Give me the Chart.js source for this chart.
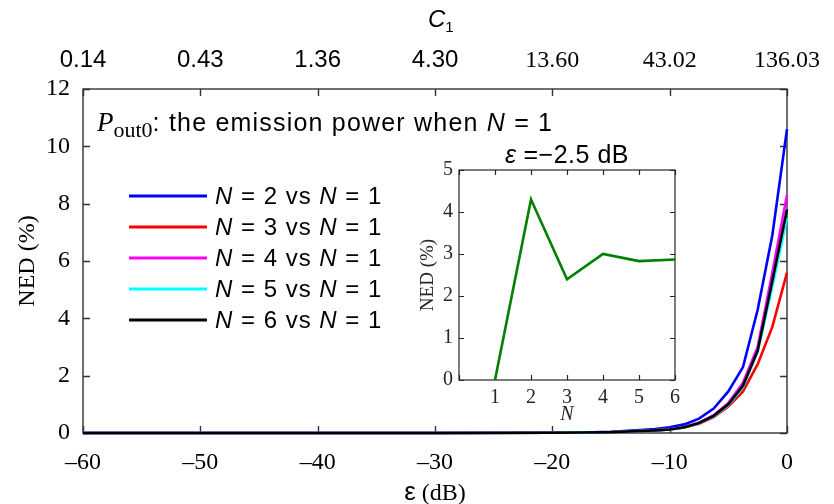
<!DOCTYPE html>
<html>
<head>
<meta charset="utf-8">
<script src="https://cdn.jsdelivr.net/npm/chart.js@4.4.1/dist/chart.umd.min.js"></script>
<style>
  html, body { margin: 0; padding: 0; background: #fff; }
  #wrap { position: relative; width: 834px; height: 504px; }
  #mainChart { position: absolute; left: 0; top: 0; }
  #insetChart { position: absolute; left: 395px; top: 135px; }
</style>
</head>
<body>
<div id="wrap">
  <canvas id="mainChart" width="834" height="504"></canvas>
  <canvas id="insetChart" width="300" height="290"></canvas>
</div>
<script>
// --- data ---
const eps = [-60, -50, -40, -30, -20, -17.5, -15, -12.5, -11.25, -10, -8.75, -7.5, -6.25, -5, -3.75, -2.5, -1.25, 0];
const nedN2 = [0, 0, 0, 0, 0.01, 0.02, 0.04, 0.10, 0.14, 0.20, 0.30, 0.50, 0.85, 1.45, 2.30, 4.30, 6.90, 10.6];
const nedN3 = [0, 0, 0, 0, 0.01, 0.02, 0.03, 0.07, 0.09, 0.12, 0.19, 0.32, 0.55, 0.92, 1.45, 2.40, 3.70, 5.6];
const nedN4 = [0, 0, 0, 0, 0.01, 0.02, 0.03, 0.07, 0.09, 0.13, 0.21, 0.36, 0.62, 1.05, 1.75, 3.00, 5.60, 8.3];
const nedN5 = [0, 0, 0, 0, 0.01, 0.02, 0.03, 0.07, 0.09, 0.12, 0.20, 0.34, 0.58, 0.97, 1.60, 2.83, 5.10, 7.5];
const nedN6 = [0, 0, 0, 0, 0.01, 0.02, 0.03, 0.07, 0.09, 0.12, 0.20, 0.35, 0.60, 1.00, 1.65, 2.87, 5.30, 7.8];

const seriesN = [2, 3, 4, 5, 6];
const seriesData = [nedN2, nedN3, nedN4, nedN5, nedN6];
const seriesColors = ['#0000ff', '#ff0000', '#ff00ff', '#00ffff', '#000000'];

const c1Labels = ['0.14', '0.43', '1.36', '4.30', '13.60', '43.02', '136.03'];

// inset: NED at eps = -2.5 dB vs N
const insetN = [1, 2, 3, 4, 5, 6];
const insetNed = [0, 4.3, 2.4, 3.0, 2.83, 2.87];

const SANS = '"Liberation Sans", Arial, sans-serif';
const SERIF = '"Liberation Serif", "Times New Roman", serif';

// draw a row of text pieces with different fonts, left to right
function runsWidth(ctx, runs) {
  let w = 0;
  runs.forEach(r => {
    ctx.font = r.font;
    ctx.letterSpacing = r.ls || '0px';
    w += ctx.measureText(r.t).width;
  });
  return w;
}
function drawRuns(ctx, x, y, runs) {
  runs.forEach(r => {
    ctx.font = r.font;
    ctx.letterSpacing = r.ls || '0px';
    ctx.fillText(r.t, x, y + (r.dy || 0));
    x += ctx.measureText(r.t).width;
  });
  ctx.letterSpacing = '0px';
  return x;
}

// box around the plot area with inward ticks on all four sides
const frameTicks = {
  id: 'frameTicks',
  beforeDatasetsDraw(chart, args, opts) {
    const { ctx, chartArea: a } = chart;
    const xs = chart.scales.x, ys = chart.scales.y;
    ctx.save();
    ctx.strokeStyle = opts.color;
    ctx.lineWidth = opts.width;
    ctx.beginPath();
    xs.ticks.forEach(t => {
      const px = Math.round(xs.getPixelForValue(t.value)) + 0.5;
      ctx.moveTo(px, a.bottom); ctx.lineTo(px, a.bottom - opts.len);
      ctx.moveTo(px, a.top); ctx.lineTo(px, a.top + opts.len);
    });
    ys.ticks.forEach(t => {
      const py = Math.round(ys.getPixelForValue(t.value)) + 0.5;
      ctx.moveTo(a.left, py); ctx.lineTo(a.left + opts.len, py);
      ctx.moveTo(a.right, py); ctx.lineTo(a.right - opts.len, py);
    });
    ctx.stroke();
    ctx.strokeRect(a.left, a.top, a.right - a.left, a.bottom - a.top);
    ctx.restore();
  }
};

// white background for the inset axes
const whitePlot = {
  id: 'whitePlot',
  beforeDraw(chart) {
    const { ctx, chartArea: a } = chart;
    ctx.save();
    ctx.fillStyle = '#fff';
    ctx.fillRect(a.left, a.top, a.right - a.left, a.bottom - a.top);
    ctx.restore();
  }
};

// titles, note and legend of the main axes
const mainText = {
  id: 'mainText',
  afterDraw(chart) {
    const { ctx, chartArea: a } = chart;
    ctx.save();
    ctx.fillStyle = '#000';
    ctx.textBaseline = 'alphabetic';
    ctx.textAlign = 'left';

    // top axis title C1
    drawRuns(ctx, 428, 27, [
      { t: 'C', font: 'italic 24px ' + SANS },
      { t: '1', font: '15px ' + SANS, dy: 5 }
    ]);

    // bottom axis title
    const xt = [
      { t: 'ε', font: '26px ' + SANS },
      { t: ' (dB)', font: '24px ' + SERIF }
    ];
    drawRuns(ctx, (a.left + a.right) / 2 - runsWidth(ctx, xt) / 2, 500, xt);

    // left axis title
    ctx.save();
    ctx.translate(34, 261);
    ctx.rotate(-Math.PI / 2);
    ctx.font = '24px ' + SERIF;
    ctx.textAlign = 'center';
    ctx.fillText('NED (%)', 0, 0);
    ctx.restore();

    // note
    drawRuns(ctx, 97, 131, [
      { t: 'P', font: 'italic 27px ' + SERIF },
      { t: 'out0', font: '22px ' + SERIF, dy: 6 },
      { t: ': the emission power when ', font: '25px ' + SANS, ls: '1.2px' },
      { t: 'N', font: 'italic 25px ' + SANS, ls: '1.2px' },
      { t: ' = 1', font: '25px ' + SANS, ls: '1.2px' }
    ]);

    // legend
    seriesN.forEach((n, i) => {
      const y = 196 + i * 31;
      ctx.strokeStyle = seriesColors[i];
      ctx.lineWidth = 3;
      ctx.beginPath();
      ctx.moveTo(129, y); ctx.lineTo(207, y);
      ctx.stroke();
      drawRuns(ctx, 215, y + 8, [
        { t: 'N', font: 'italic 24px ' + SANS, ls: '1px' },
        { t: ' = ' + n + ' vs ', font: '24px ' + SANS, ls: '1px' },
        { t: 'N', font: 'italic 24px ' + SANS, ls: '1px' },
        { t: ' = 1', font: '24px ' + SANS, ls: '1px' }
      ]);
    });
    ctx.restore();
  }
};

// titles of the inset axes
const insetText = {
  id: 'insetText',
  afterDraw(chart) {
    const { ctx, chartArea: a } = chart;
    ctx.save();
    ctx.fillStyle = '#000';
    const tt = [
      { t: 'ε', font: 'italic 25px ' + SANS },
      { t: ' =−2.5 dB', font: '25px ' + SANS, ls: '0.5px' }
    ];
    drawRuns(ctx, (a.left + a.right) / 2 - runsWidth(ctx, tt) / 2, 28, tt);

    ctx.fillStyle = '#262626';
    ctx.font = 'italic 20px ' + SERIF;
    ctx.textAlign = 'center';
    ctx.fillText('N', (a.left + a.right) / 2, 285);

    ctx.translate(38, (a.top + a.bottom) / 2);
    ctx.rotate(-Math.PI / 2);
    ctx.font = '19px ' + SERIF;
    ctx.fillText('NED (%)', 0, 0);
    ctx.restore();
  }
};

const mainCanvas = document.getElementById('mainChart');
new Chart(mainCanvas, {
  type: 'line',
  data: {
    datasets: seriesN.map((n, i) => ({
      label: 'N = ' + n + ' vs N = 1',
      data: eps.map((e, k) => ({ x: e, y: seriesData[i][k] })),
      borderColor: seriesColors[i],
      backgroundColor: seriesColors[i],
      borderWidth: 2.6,
      pointRadius: 0,
      tension: 0,
      clip: false,
      order: seriesN.length - i
    }))
  },
  options: {
    responsive: false,
    animation: false,
    devicePixelRatio: 1,
    layout: { padding: { left: 0, right: 44, top: 0, bottom: 0 } },
    plugins: {
      legend: { display: false },
      tooltip: { enabled: false },
      frameTicks: { len: 7, color: '#333', width: 1.4 }
    },
    scales: {
      x: {
        type: 'linear', position: 'bottom', min: -60, max: 0,
        grid: { display: false, drawTicks: false },
        border: { display: false },
        ticks: {
          stepSize: 10, padding: 15, maxRotation: 0, color: '#000',
          font: { family: SERIF, size: 24 },
          callback: v => String(v).replace('-', '–')
        },
        afterFit: s => { s.height = 71; }
      },
      xTop: {
        type: 'linear', position: 'top', min: -60, max: 0,
        grid: { display: false, drawTicks: false },
        border: { display: false },
        ticks: {
          stepSize: 10, padding: 14, maxRotation: 0, color: '#000',
          font: ctx => ({ family: ctx.index < 4 ? SANS : SERIF, size: 24 }),
          callback: (v, i) => c1Labels[i]
        },
        afterFit: s => { s.height = 89; }
      },
      y: {
        type: 'linear', position: 'left', min: 0, max: 12,
        grid: { display: false, drawTicks: false },
        border: { display: false },
        ticks: {
          stepSize: 2, padding: 13, color: '#000',
          font: { family: SERIF, size: 24 }
        },
        afterFit: s => { s.width = 83; }
      }
    }
  },
  plugins: [frameTicks, mainText]
});

const insetCanvas = document.getElementById('insetChart');
new Chart(insetCanvas, {
  type: 'line',
  data: {
    datasets: [{
      label: 'ε = −2.5 dB',
      data: insetN.map((n, k) => ({ x: n, y: insetNed[k] })),
      borderColor: '#008000',
      borderWidth: 2.6,
      pointRadius: 0,
      tension: 0,
      clip: false
    }]
  },
  options: {
    responsive: false,
    animation: false,
    devicePixelRatio: 1,
    layout: { padding: { left: 0, right: 20, top: 35, bottom: 0 } },
    plugins: {
      legend: { display: false },
      tooltip: { enabled: false },
      frameTicks: { len: 5, color: '#262626', width: 1.2 }
    },
    scales: {
      x: {
        type: 'linear', min: 0, max: 6,
        grid: { display: false, drawTicks: false },
        border: { display: false },
        ticks: {
          stepSize: 1, padding: 6, maxRotation: 0, color: '#262626',
          font: { family: SERIF, size: 20 },
          callback: v => (v === 0 ? '' : v)
        },
        afterFit: s => { s.height = 45; }
      },
      y: {
        type: 'linear', min: 0, max: 5,
        grid: { display: false, drawTicks: false },
        border: { display: false },
        ticks: {
          stepSize: 1, padding: 6, color: '#262626',
          font: { family: SERIF, size: 20 }
        },
        afterFit: s => { s.width = 64; }
      }
    }
  },
  plugins: [whitePlot, frameTicks, insetText]
});
</script>
</body>
</html>
